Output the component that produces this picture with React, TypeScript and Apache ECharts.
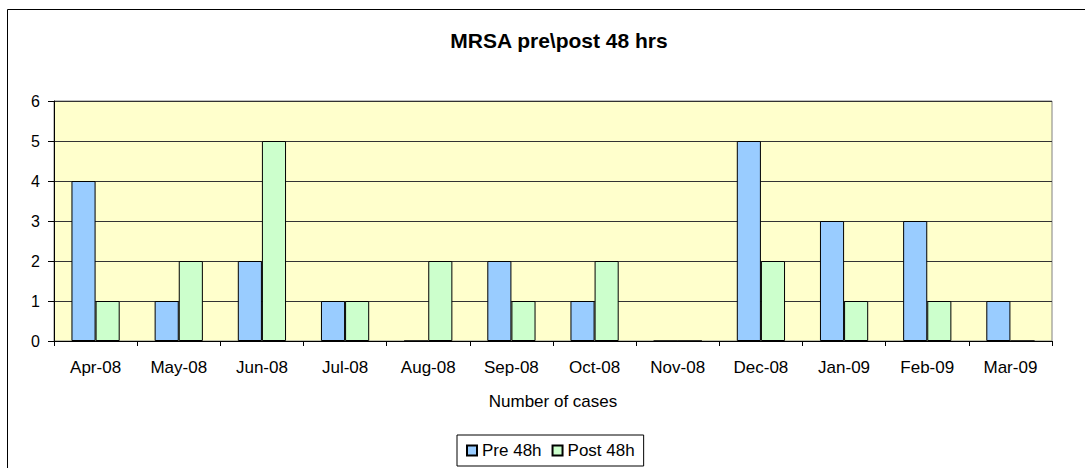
import React, { useEffect, useRef } from "react";
import * as echarts from "echarts";

const categories = ["Apr-08", "May-08", "Jun-08", "Jul-08", "Aug-08", "Sep-08", "Oct-08", "Nov-08", "Dec-08", "Jan-09", "Feb-09", "Mar-09"];
const pre48 = [4, 1, 2, 1, 0, 2, 1, 0, 5, 3, 3, 1];
const post48 = [1, 2, 5, 1, 2, 1, 2, 0, 2, 1, 1, 0];
const yTicks = { min: 0, max: 6, interval: 1 };

const FONT = "'Liberation Sans', Arial, sans-serif";

export default function App() {
  const ref = useRef<HTMLDivElement>(null);
  useEffect(() => {
    if (!ref.current) return;
    const chart = echarts.init(ref.current, null, { renderer: "svg" });
    chart.setOption({
      animation: false,
      backgroundColor: "#ffffff",
      textStyle: { fontFamily: FONT },
      title: {
        text: "MRSA pre\\post 48 hrs",
        left: 554,
        top: 25,
        textAlign: "center",
        textStyle: { fontFamily: FONT, fontWeight: "bold", fontSize: 21, color: "#000" },
      },
      graphic: [
        {
          type: "rect",
          shape: { x: 7.5, y: 9.5, width: 1200, height: 600 },
          style: { fill: "none", stroke: "#000", lineWidth: 1 },
          silent: true,
        },
      ],
      legend: {
        data: ["Pre 48h", "Post 48h"],
        left: 457,
        top: 435,
        padding: [7, 9],
        itemGap: 10,
        itemWidth: 10,
        itemHeight: 10,
        icon: "rect",
        borderColor: "#000",
        borderWidth: 1,
        textStyle: { fontFamily: FONT, fontSize: 17, color: "#000" },
      },
      grid: {
        left: 54,
        top: 101,
        right: 33,
        bottom: 127,
        show: true,
        backgroundColor: "#FFFFCC",
        borderColor: "#808080",
        borderWidth: 1,
      },
      xAxis: {
        type: "category",
        data: categories,
        name: "Number of cases",
        nameLocation: "middle",
        nameGap: 52,
        nameTextStyle: { fontFamily: FONT, fontSize: 17, color: "#000" },
        axisLine: { show: true, lineStyle: { color: "#000", width: 1 } },
        axisTick: { show: true, length: 5, lineStyle: { color: "#000" } },
        axisLabel: { fontFamily: FONT, fontSize: 17, color: "#000", margin: 18 },
      },
      yAxis: {
        type: "value",
        min: yTicks.min,
        max: yTicks.max,
        interval: yTicks.interval,
        axisLine: { show: true, lineStyle: { color: "#000", width: 1 } },
        axisTick: { show: true, length: 6, lineStyle: { color: "#000" } },
        axisLabel: { fontFamily: FONT, fontSize: 16, color: "#000", margin: 14 },
        splitLine: { show: true, lineStyle: { color: "#333", width: 1 } },
      },
      series: [
        {
          name: "Pre 48h",
          type: "bar",
          data: pre48,
          barGap: "0%",
          barCategoryGap: "42%",
          itemStyle: { color: "#99CCFF", borderColor: "#000", borderWidth: 1 },
        },
        {
          name: "Post 48h",
          type: "bar",
          data: post48,
          barGap: "0%",
          barCategoryGap: "42%",
          itemStyle: { color: "#CCFFCC", borderColor: "#000", borderWidth: 1 },
        },
      ],
    });
    return () => chart.dispose();
  }, []);
  return (
    <div
      ref={ref}
      style={{ position: "absolute", left: 0, top: 0, width: 1085, height: 468 }}
    />
  );
}
